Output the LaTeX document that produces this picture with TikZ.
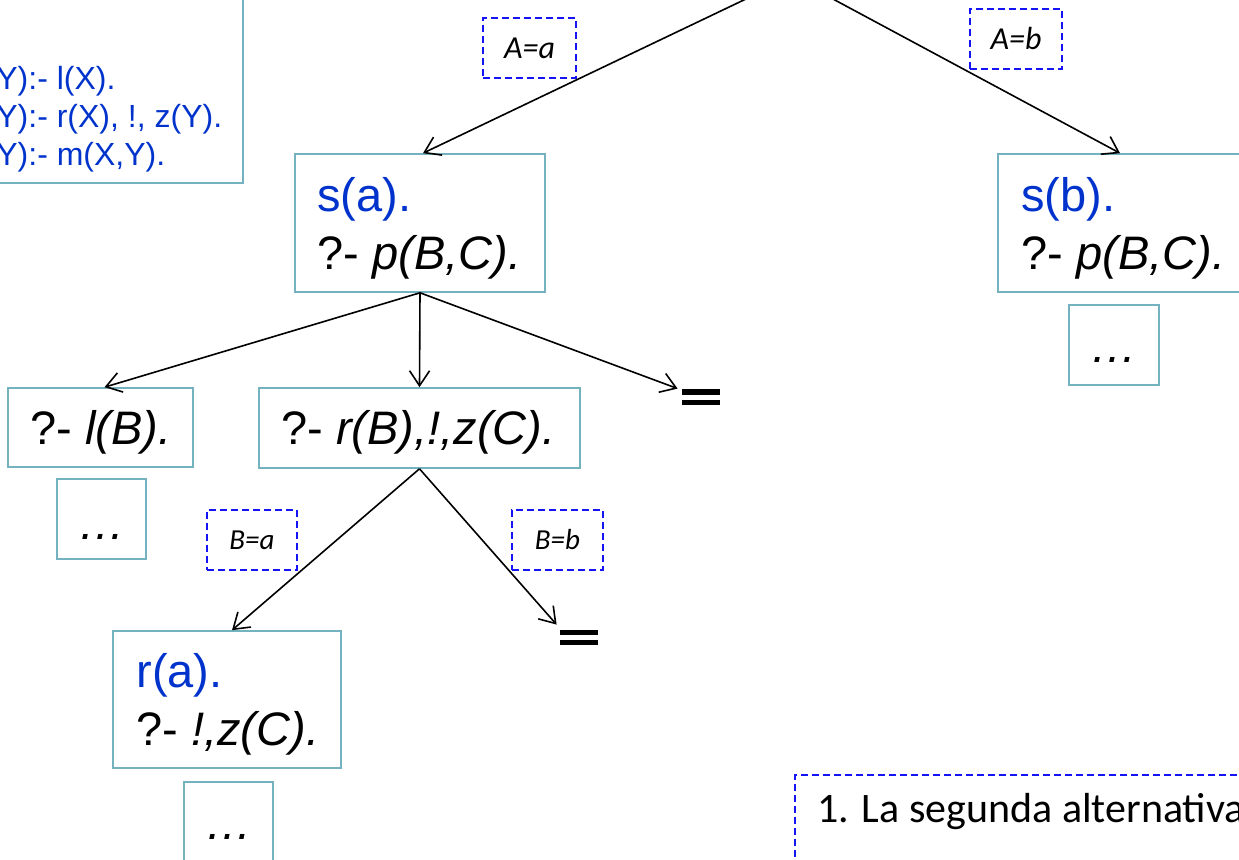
\documentclass[tikz,border=0pt]{standalone}
\usepackage{fontspec}
\setmainfont{Liberation Sans}
\newfontfamily\calfont{Carlito}
\usetikzlibrary{arrows.meta}
\definecolor{tealbox}{RGB}{116,178,192}
\definecolor{progblue}{RGB}{0,51,204}
\definecolor{dashblue}{RGB}{20,20,245}
\begin{document}
\begin{tikzpicture}[x=0.5pt,y=-0.5pt,
  tbox/.style={draw=tealbox,line width=0.8pt,inner sep=0pt},
  lblbox/.style={draw=dashblue,line width=0.8pt,dash pattern=on 3.5pt off 2pt,inner sep=0pt,
     font=\calfont\fontsize{16}{19}\selectfont\itshape},
  notebox/.style={draw=dashblue,line width=0.8pt,dash pattern=on 3.5pt off 2pt,inner sep=0pt},
  ptext/.style={anchor=base west,inner sep=0pt,text=progblue,font=\fontsize{16}{19}\selectfont},
  btext/.style={anchor=base west,inner sep=0pt,font=\fontsize{23.5}{28}\selectfont},
  dots/.style={anchor=base,inner sep=0pt,font=\fontsize{23.5}{28}\selectfont\itshape},
  arr/.style={line width=0.8pt,-{Straight Barb[length=7.5pt,width=10pt,line width=0.8pt]}},
  eqsign/.style={inner sep=0pt}
]
\useasboundingbox (0,0) rectangle (1239,860);
\clip (0,0) rectangle (1239,860);

% program box (partly outside)
\node[tbox,minimum width=131.5pt,minimum height=101.5pt] (prog) at (111.5,81.5) {};
\node[ptext] (p1) at (-4,90) {Y):- l(X).};
\node[ptext] (p2) at (-4,128) {Y):- r(X), !, z(Y).};
\node[ptext] (p3) at (-4,166) {Y):- m(X,Y).};

\coordinate (root) at (792,-23);

% tree boxes
\node[tbox,minimum width=125pt,minimum height=69pt] (sa) at (420,223) {};
\node[btext,text=progblue] (sa1) at (317,212) {s(a).};
\node[btext] (sa2) at (317,270) {?- \textit{p(B,C).}};

\node[tbox,minimum width=125pt,minimum height=69pt] (sb) at (1123,223) {};
\node[btext,text=progblue] (sb1) at (1021,212) {s(b).};
\node[btext] (sb2) at (1021,270) {?- \textit{p(B,C).}};

\node[tbox,minimum width=92.5pt,minimum height=39.5pt] (lb) at (100.5,427.5) {};
\node[btext] (lbt) at (30,445) {?- \textit{l(B).}};

\node[tbox,minimum width=160.5pt,minimum height=40pt] (rb) at (419.5,428) {};
\node[btext] (rbt) at (281,445) {?- \textit{r(B),!,z(C).}};

\node[tbox,minimum width=114pt,minimum height=68.5pt] (ra) at (227,699.5) {};
\node[btext,text=progblue] (ra1) at (136,688) {r(a).};
\node[btext] (ra2) at (136,746) {?- \textit{!,z(C).}};

% ellipsis boxes
\node[tbox,minimum width=44.5pt,minimum height=40pt] (d1) at (101.5,519) {};
\node[dots] (d1t) at (102,540) {…};
\node[tbox,minimum width=45pt,minimum height=40pt] (d2) at (1114,345) {};
\node[dots] (d2t) at (1114,363) {…};
\node[tbox,minimum width=44.5pt,minimum height=40pt] (d3) at (228.5,822) {};
\node[dots] (d3t) at (228.5,840) {…};

% failure signs
\node[eqsign,minimum width=19pt,minimum height=8pt] (eq1) at (701,397) {};
\fill (eq1.north west) rectangle ([yshift=-3pt]eq1.north east);
\fill ([yshift=2.5pt]eq1.south west) rectangle (eq1.south east);
\node[eqsign,minimum width=19pt,minimum height=7.5pt] (eq2) at (579,637.5) {};
\fill (eq2.north west) rectangle ([yshift=-2.5pt]eq2.north east);
\fill ([yshift=2.5pt]eq2.south west) rectangle (eq2.south east);

% substitution labels
\node[lblbox,minimum width=46.5pt,minimum height=30pt] (labAa) at (529.5,48) {A=a};
\node[lblbox,minimum width=46pt,minimum height=30pt] (labAb) at (1016,39) {A=b};
\node[lblbox,minimum width=45pt,minimum height=30pt,font=\calfont\fontsize{14.5}{17}\selectfont\itshape] (labBa) at (252,540) {B=a};
\node[lblbox,minimum width=45.5pt,minimum height=30pt,font=\calfont\fontsize{14.5}{17}\selectfont\itshape] (labBb) at (557.5,540) {B=b};

% note box
\node[notebox,minimum width=252.5pt,minimum height=62.5pt] (note) at (1047.5,837.5) {};
\node[anchor=base west,inner sep=0pt,font=\calfont\fontsize{21}{25}\selectfont] (notet) at (817,823) {1. La segunda alternativa};

% connectors
\draw[arr] (root) -- ([xshift=1.5pt]sa.north);
\draw[arr] (root) -- ([xshift=-1.5pt]sb.north);
\draw[arr] (sa.south) -- ([xshift=2pt]lb.north);
\draw[arr] (sa.south) -- (rb.north);
\draw[arr] (sa.south) -- ([xshift=-2pt]eq1.north west);
\draw[arr] (rb.south) -- ([xshift=2.5pt]ra.north);
\draw[arr] (rb.south) -- ([xshift=-1.5pt,yshift=2.5pt]eq2.north west);
\end{tikzpicture}
\end{document}
